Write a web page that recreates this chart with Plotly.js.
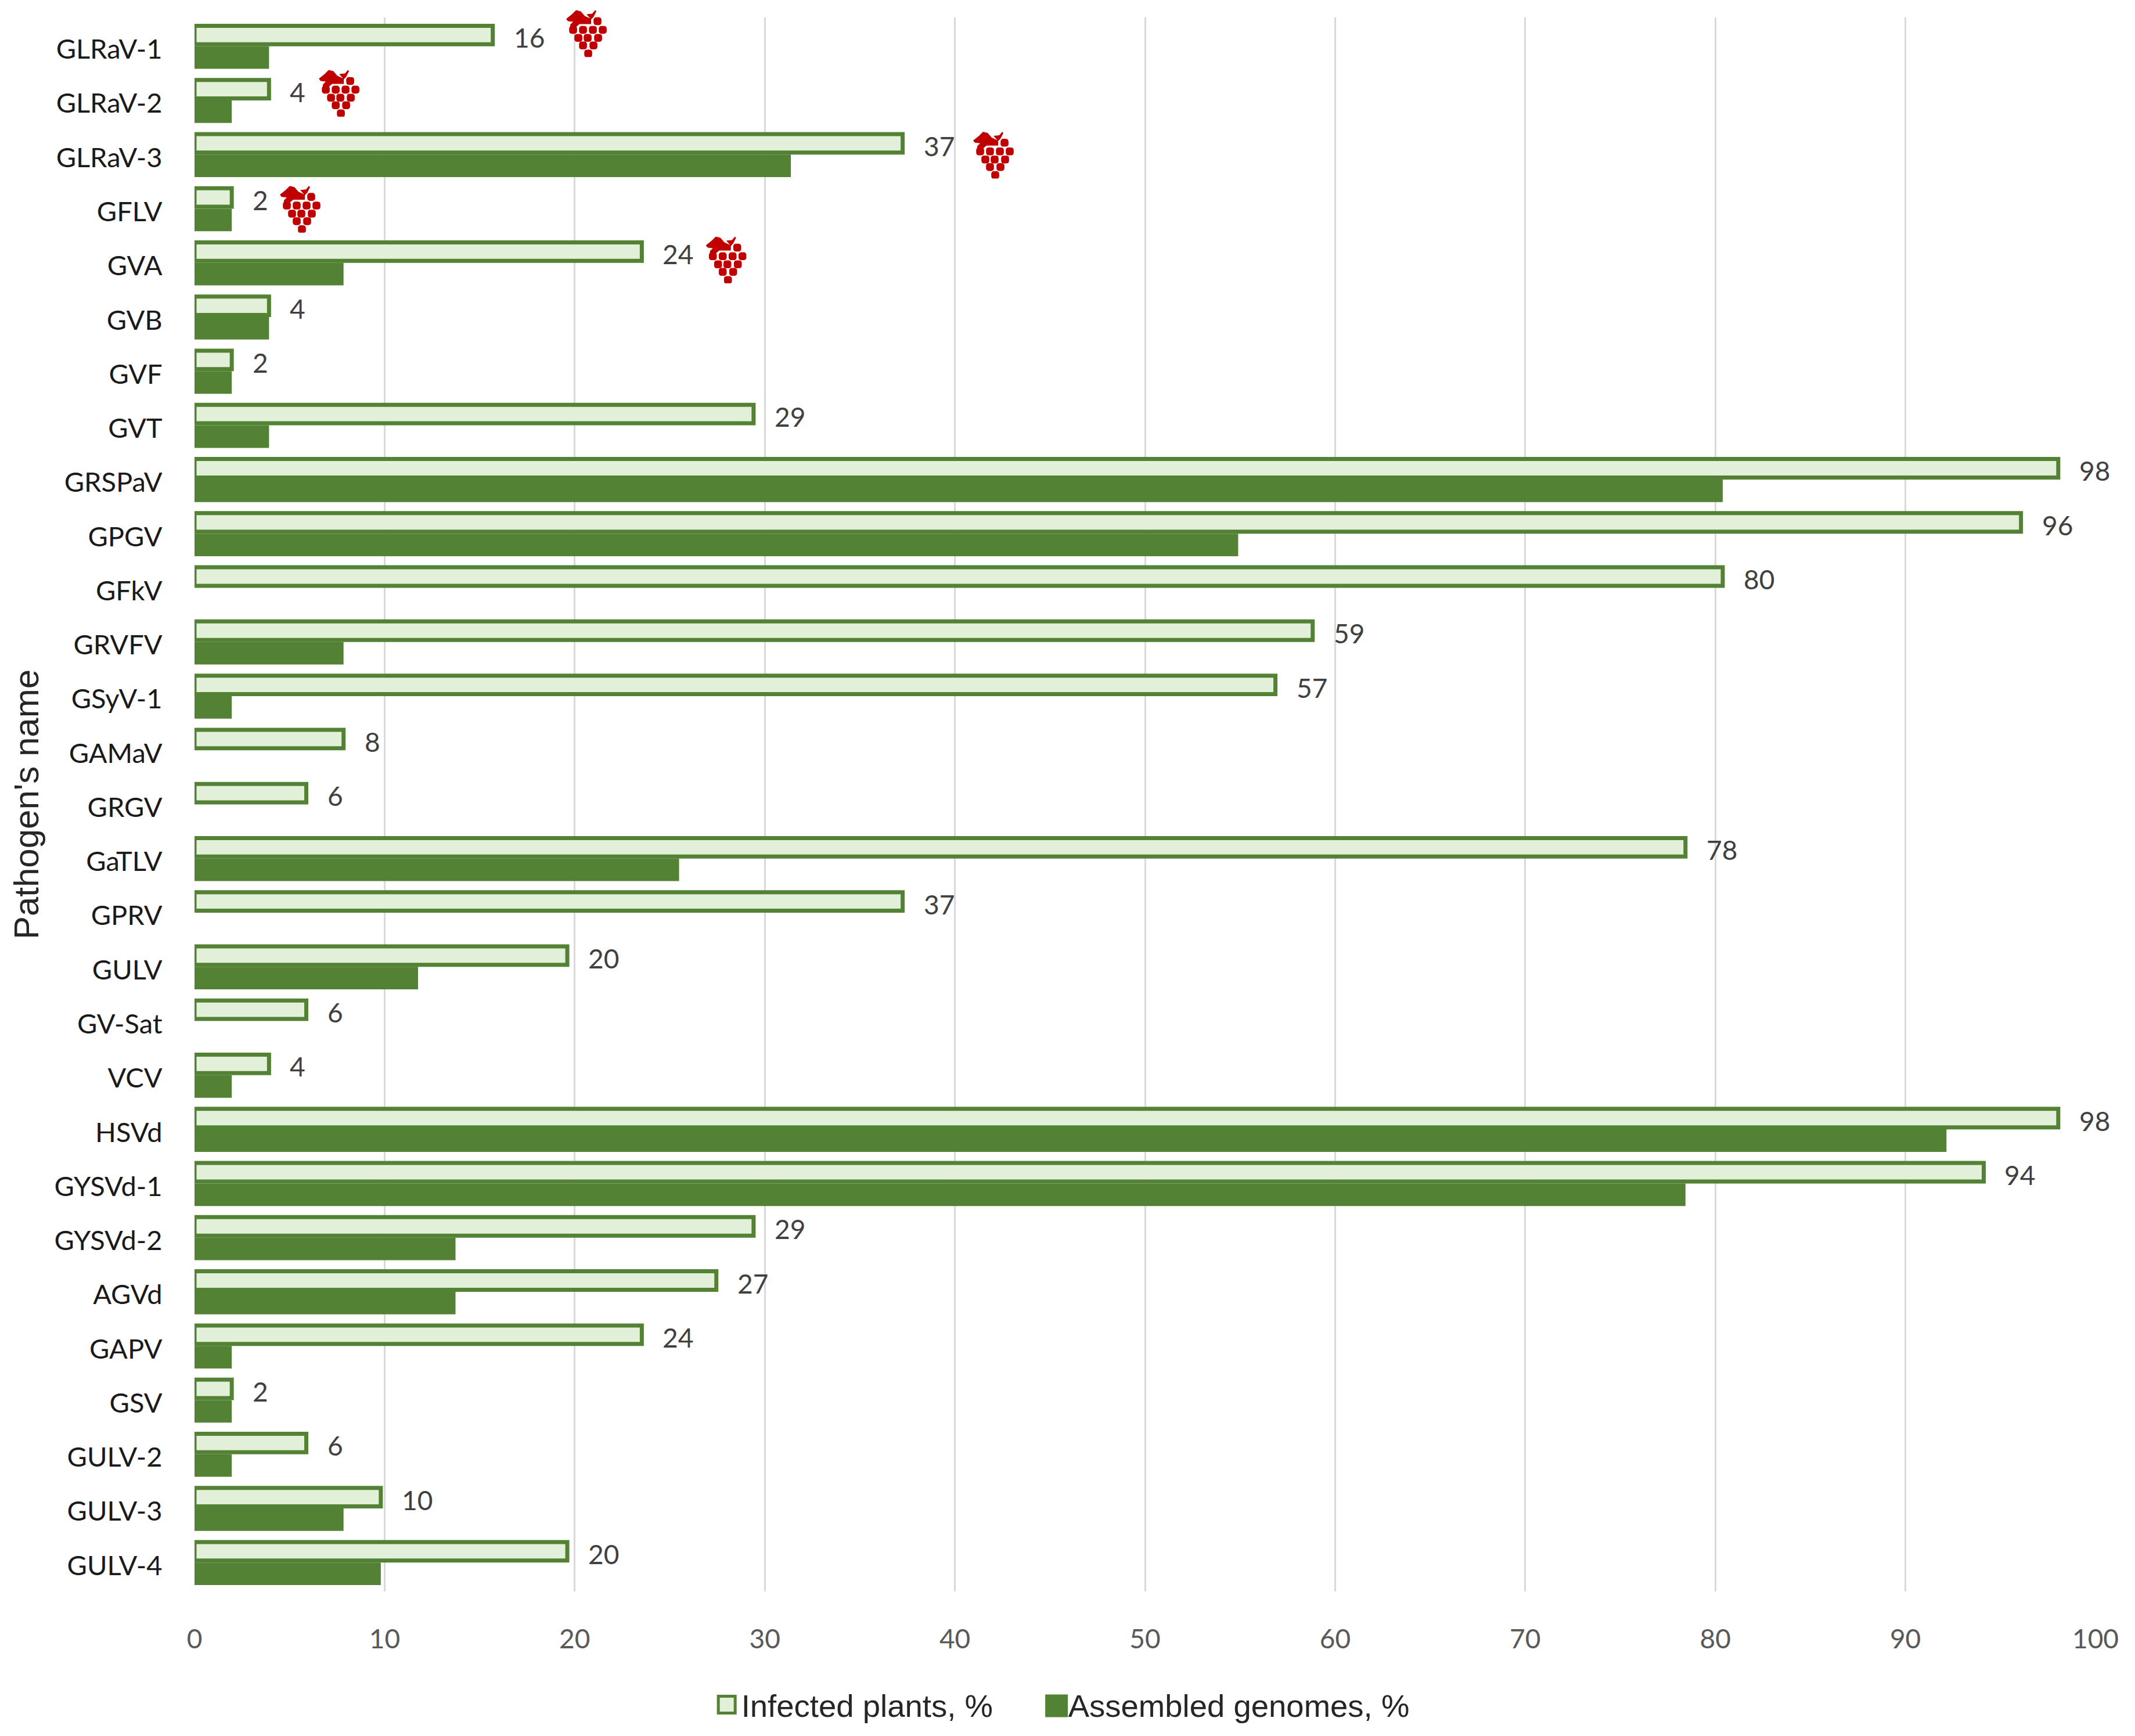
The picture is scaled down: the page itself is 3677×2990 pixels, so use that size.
<!DOCTYPE html>
<html><head><meta charset="utf-8">
<script src="https://cdn.plot.ly/plotly-3.0.1.min.js"></script>
<style>html,body{margin:0;padding:0;background:#fff}#c{width:3677px;height:2990px}</style>
</head><body><div id="c"></div>
<script>
const pathogens = ["GLRaV-1","GLRaV-2","GLRaV-3","GFLV","GVA","GVB","GVF","GVT","GRSPaV","GPGV","GFkV","GRVFV","GSyV-1","GAMaV","GRGV","GaTLV","GPRV","GULV","GV-Sat","VCV","HSVd","GYSVd-1","GYSVd-2","AGVd","GAPV","GSV","GULV-2","GULV-3","GULV-4"];
const infected = [15.69,3.92,37.25,1.96,23.53,3.92,1.96,29.41,98.04,96.08,80.39,58.82,56.86,7.84,5.88,78.43,37.25,19.61,5.88,3.92,98.04,94.12,29.41,27.45,23.53,1.96,5.88,9.8,19.61];
const assembled = [3.92,1.96,31.37,1.96,7.84,3.92,1.96,3.92,80.39,54.9,0,7.84,1.96,0,0,25.49,0,11.76,0,1.96,92.16,78.43,13.73,13.73,1.96,1.96,1.96,7.84,9.8];
const infectedLabels = ["16","4","37","2","24","4","2","29","98","96","80","59","57","8","6","78","37","20","6","4","98","94","29","27","24","2","6","10","20"];
const grapeRow = [-0.245,0.859,2.0,3.0,3.936];
const grapeLeft = [19.55,6.54,40.96,4.49,26.9];

const yRange = [28.533,-0.533];
const berries = [[54,21],[63,36],[46,36],[29,36],[12,36],[21,50],[37,50],[55,50],[29,63],[47,63],[38,77]];
const grapeSvg = '<svg xmlns="http://www.w3.org/2000/svg" viewBox="0 0 70 83" width="70" height="83">'
  + berries.map(b=>`<rect x="${b[0]-6.8}" y="${b[1]-6.8}" width="13.6" height="13.6" rx="4.5" fill="#C00000"/>`).join('')
  + '<path d="M0 17 L10 9 L17 2 L25 4 L32 12 L43 17 L43 26 L23 26 L17 31 L17 42 L7 42 L7 27 L12 22 L3 21 Z M35 9 L45 8 L50 2 L52 4 L47 14 L43 18 Z" fill="#C00000"/></svg>';
const grapeUri = 'data:image/svg+xml;charset=utf-8,' + encodeURIComponent(grapeSvg);

const rows = pathogens.map((_,i)=>i);
const dark = '#548235';
const traces = [
 {type:'bar',orientation:'h',name:'Infected plants, %',y:rows,x:infected,offset:-0.3787,width:0.3413,
  marker:{color:'#E2F0D9',line:{color:dark,width:7}},hoverinfo:'none'},
 {type:'bar',orientation:'h',name:'Assembled genomes, %',y:rows,x:assembled,offset:0,width:0.416,
  marker:{color:dark,line:{color:dark,width:0}},hoverinfo:'none'}
];
const layout = {
 width:3677,height:2990,paper_bgcolor:'#fff',plot_bgcolor:'#fff',
 margin:{l:335,r:68,t:30,b:235,pad:0},
 barmode:'overlay',
 font:{family:'Lato, sans-serif'},
 xaxis:{range:[0,100],tick0:0,dtick:10,showgrid:true,gridcolor:'#D9D9D9',gridwidth:3,zeroline:false,showline:false,
  ticks:'outside',ticklen:42,tickcolor:'rgba(0,0,0,0)',tickfont:{family:'Lato, sans-serif',size:46,color:'#595959'}},
 yaxis:{range:yRange,tickmode:'array',tickvals:rows,ticktext:pathogens,showgrid:false,zeroline:false,showline:false,
  ticks:'outside',ticklen:45,tickcolor:'rgba(0,0,0,0)',ticklabelshift:-5,tickfont:{family:'Lato, sans-serif',size:47,color:'#1a1a1a'},
  title:{text:"Pathogen's name",font:{family:'Liberation Sans, Arial, sans-serif',size:60,color:'#262626'},standoff:7}},
 legend:{orientation:'h',xref:'paper',yref:'paper',x:0.2754,xanchor:'left',y:-0.072,yanchor:'middle',
  font:{family:'Liberation Sans, Arial, sans-serif',size:54.5,color:'#262626'},bgcolor:'rgba(0,0,0,0)',entrywidth:518,entrywidthmode:'pixels'},
 annotations:rows.map(i=>({x:infected[i],y:i-0.16,xref:'x',yref:'y',text:infectedLabels[i],showarrow:false,xanchor:'left',yanchor:'middle',xshift:34,
  font:{family:'Lato, sans-serif',size:46,color:'#404040'}})),
 images:grapeRow.map((r,k)=>({source:grapeUri,xref:'paper',yref:'paper',
  x:grapeLeft[k]/100,y:(yRange[0]-r)/(yRange[0]-yRange[1]),sizex:70/3274,sizey:83/2725,xanchor:'left',yanchor:'middle',sizing:'stretch',layer:'above'}))
};
Plotly.newPlot('c',traces,layout,{displayModeBar:false,staticPlot:true}).then(()=>{
  document.querySelectorAll('.legend, .legend [clip-path]').forEach(e=>e.removeAttribute('clip-path'));
  const swatches=[['M14.5,14.5H-14.5V-14.5H14.5Z',15,0],['M19.5,19.5H-19.5V-19.5H19.5Z',20,2]];
  document.querySelectorAll('.legend .legendpoints path').forEach((p,i)=>{
    const s=swatches[i]; if(!s) return;
    p.setAttribute('d',s[0]);
    p.setAttribute('transform',`translate(${s[1]},${s[2]})`);
  });
});
</script></body></html>
